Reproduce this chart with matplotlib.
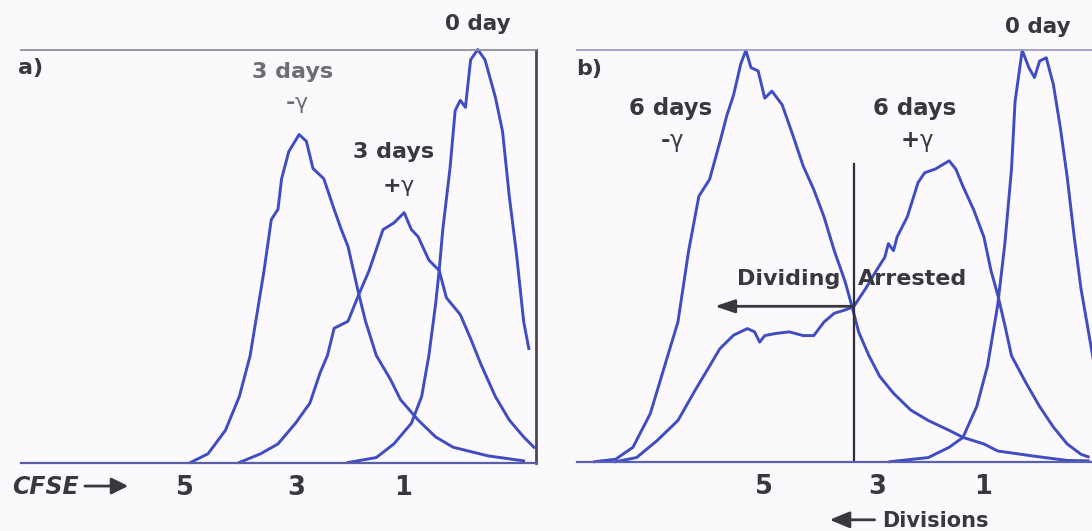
import matplotlib.pyplot as plt

plt.rcParams['font.family'] = ['DejaVu Sans', 'Liberation Sans']
plt.rcParams['mathtext.fontset'] = 'dejavusans'

# panel a: CFSE histograms, x = fluorescence (arb. units), y = % of max
a_minus_x = [32.9, 36.3, 39.7, 42.4, 44.5, 45.9, 47.2, 48.6, 49.9, 50.6, 52.0, 54.0, 55.4, 56.7,
             58.8, 60.8, 62.2, 63.5, 65.6, 66.9, 69.0, 71.7, 73.7, 77.1, 80.5, 83.9, 90.7, 97.6]
a_minus_y = [0, 2.1, 7.8, 16.0, 25.9, 36.6, 46.5, 58.8, 61.3, 68.7, 75.3, 79.4, 77.8, 71.2,
             68.7, 61.3, 56.4, 52.3, 40.7, 34.2, 25.9, 20.2, 15.2, 10.3, 6.2, 3.7, 1.6, 0.4]

a_plus_x = [42.4, 46.5, 49.9, 53.3, 56.1, 58.1, 59.5, 60.8, 63.5, 65.6, 67.6, 70.3, 72.4, 74.4,
            75.8, 77.1, 79.2, 81.2, 82.6, 85.3, 87.3, 89.4, 92.1, 94.8, 97.6, 99.6]
a_plus_y = [0, 2.1, 4.5, 9.5, 14.4, 21.8, 25.9, 32.5, 34.2, 40.7, 46.5, 56.4, 58.0, 60.5,
            56.4, 54.7, 49.0, 46.5, 39.9, 35.8, 30.0, 23.5, 16.0, 10.3, 6.2, 3.7]

a_day0_x = [63.5, 69.0, 72.4, 75.8, 77.8, 79.2, 80.5, 81.2, 81.9, 83.3, 84.3, 85.3, 86.3, 87.3,
            88.7, 90.1, 92.1, 93.5, 94.8, 96.2, 97.6, 98.6]
a_day0_y = [0, 1.2, 4.5, 9.5, 16.0, 25.9, 38.3, 46.5, 56.4, 71.2, 85.2, 87.7, 86.0, 97.5,
            100.0, 97.5, 88.5, 80.2, 64.6, 50.6, 34.2, 27.6]

# panel b
b_minus_x = [3.4, 7.5, 10.9, 14.3, 17.7, 19.7, 21.8, 23.8, 25.9, 27.9, 29.3, 30.6, 32.0, 33.0,
             34.0, 35.4, 36.7, 38.1, 40.1, 42.2, 44.2, 46.3, 48.3, 50.3, 52.4, 53.7, 55.1, 57.1,
             59.2, 61.9, 65.3, 68.7, 72.8, 75.5, 79.6, 82.3, 89.1, 95.9, 100.0]
b_minus_y = [0, 0.6, 3.5, 11.7, 25.7, 33.9, 51.2, 64.4, 68.5, 77.5, 84.1, 89.0, 96.5, 99.8,
             95.6, 94.8, 88.2, 89.9, 86.6, 79.2, 71.8, 66.0, 59.4, 51.2, 43.8, 38.0, 31.4, 25.7,
             20.7, 16.6, 12.5, 10.0, 7.6, 5.9, 4.3, 2.6, 1.4, 0.3, 0.2]

b_plus_x = [7.5, 11.6, 15.6, 19.7, 23.1, 25.9, 27.9, 30.6, 33.3, 34.7, 35.7, 36.7, 38.8, 41.5,
            44.2, 46.3, 48.3, 50.3, 52.4, 54.1, 56.5, 58.5, 60.2, 60.9, 61.9, 62.6, 64.6, 66.7,
            68.0, 70.1, 72.8, 74.1, 75.5, 77.6, 79.6, 81.0, 82.3, 83.7, 85.0, 87.8, 90.5, 93.2,
            95.9, 98.6, 100.0]
b_plus_y = [0, 1.0, 5.1, 10.0, 17.4, 23.2, 27.4, 30.7, 32.3, 31.5, 29.0, 30.6, 31.1, 31.5,
            30.6, 30.6, 33.9, 36.0, 36.8, 37.6, 42.1, 46.3, 49.6, 52.9, 51.2, 54.5, 59.4, 67.7,
            70.1, 71.0, 73.0, 71.0, 66.8, 61.1, 54.5, 46.3, 40.5, 33.1, 25.7, 19.2, 13.4, 8.4,
            4.3, 1.8, 1.2]

b_day0_x = [61.2, 68.7, 72.8, 75.5, 78.2, 80.3, 82.3, 83.7, 85.0, 85.7, 87.1, 88.4, 89.5, 90.5,
            91.8, 93.2, 94.6, 95.9, 97.3, 98.6, 101.0]
b_day0_y = [0, 1.0, 3.5, 5.9, 13.4, 23.2, 38.0, 52.9, 71.0, 87.4, 99.8, 95.6, 93.2, 97.2,
            98.0, 91.5, 80.7, 69.1, 54.3, 42.0, 24.9]

division_labels = ['5', '3', '1']
a_div_pos = [31.8, 53.4, 74.2]
b_div_pos = [36.5, 58.7, 79.4]
gate_x = 54.1

minus_g = r'-$\mathrm{\gamma}$'
plus_g = r'+$\mathrm{\gamma}$'

blue = '#3f4cc2'
dark = '#38383e'
W, H = 1092, 531

fig = plt.figure(figsize=(W / 100, H / 100), dpi=100, facecolor='#fbf9fc')
ax_a = fig.add_axes([21 / W, 68.5 / H, 515 / W, 413 / H])
ax_b = fig.add_axes([577.3 / W, 69.3 / H, (W - 577.3) / W, 412.2 / H])

for ax in (ax_a, ax_b):
    ax.set_facecolor('none')
    ax.set_ylim(0, 100)
    ax.set_yticks([])
    ax.spines['left'].set_visible(False)
    ax.tick_params(axis='x', length=0, pad=9, labelsize=18.5, labelcolor=dark)

ax_a.set_xlim(0, 100)
ax_b.set_xlim(0, 100.76)
ax_a.spines['top'].set_color('#8e8e9e')
ax_a.spines['top'].set_linewidth(1.3)
ax_a.spines['bottom'].set_color('#5a5ea8')
ax_a.spines['bottom'].set_linewidth(1.6)
ax_a.spines['right'].set_color('#4a4a55')
ax_a.spines['right'].set_linewidth(2)
ax_b.spines['top'].set_color('#9d9dc6')
ax_b.spines['top'].set_linewidth(1.3)
ax_b.spines['bottom'].set_color('#5a60b2')
ax_b.spines['bottom'].set_linewidth(1.6)
ax_b.spines['right'].set_visible(False)

for x, y in [(a_minus_x, a_minus_y), (a_plus_x, a_plus_y), (a_day0_x, a_day0_y)]:
    ax_a.plot(x, y, color=blue, lw=2.1, clip_on=False)
for x, y in [(b_minus_x, b_minus_y), (b_plus_x, b_plus_y), (b_day0_x, b_day0_y)]:
    ax_b.plot(x, y, color=blue, lw=2.1, clip_on=False)

ax_a.set_xticks(a_div_pos, division_labels, fontweight='bold')
ax_b.set_xticks(b_div_pos, division_labels, fontweight='bold')

kw = dict(fontweight='bold', clip_on=False, va='baseline')
# panel a labels
ax_a.text(-0.5, 94.1, 'a)', fontsize=16, color=dark, ha='left', **kw)
ax_a.text(88.7, 104.7, '0 day', fontsize=15.5, color=dark, ha='center', **kw)
ax_a.text(52.7, 93.1, '3 days', fontsize=16, color='#6e6e72', ha='center', **kw)
ax_a.text(53.6, 85.5, minus_g, fontsize=16, color='#6e6e72', ha='center', **kw)
ax_a.text(72.4, 73.8, '3 days', fontsize=16, color=dark, ha='center', **kw)
ax_a.text(73.4, 65.4, plus_g, fontsize=16, color=dark, ha='center', **kw)
ax_a.text(-1.8, -7.6, 'CFSE', fontsize=17, color=dark, ha='left', style='italic', **kw)
ax_a.annotate('', xy=(20.8, -5.7), xytext=(12.4, -5.7), annotation_clip=False,
              arrowprops=dict(arrowstyle='-|>,head_length=0.5,head_width=0.25', color=dark,
                              lw=2, mutation_scale=20, shrinkA=0, shrinkB=0))

# panel b labels
ax_b.text(-0.25, 93.7, 'b)', fontsize=16, color=dark, ha='left', **kw)
ax_b.text(90.2, 103.9, '0 day', fontsize=15.5, color=dark, ha='center', **kw)
ax_b.text(18.2, 84.2, '6 days', fontsize=16.5, color=dark, ha='center', **kw)
ax_b.text(18.5, 76.4, minus_g, fontsize=16.5, color=dark, ha='center', **kw)
ax_b.text(66.1, 84.2, '6 days', fontsize=16.5, color=dark, ha='center', **kw)
ax_b.text(66.5, 76.4, plus_g, fontsize=16.5, color=dark, ha='center', **kw)
ax_b.text(31.2, 42.8, 'Dividing', fontsize=16, color=dark, ha='left', **kw)
ax_b.text(55.0, 42.8, 'Arrested', fontsize=16, color=dark, ha='left', **kw)
ax_b.plot([gate_x, gate_x], [0, 72.2], color='#2e2e33', lw=1.6)
ax_b.annotate('', xy=(26.9, 37.7), xytext=(gate_x, 37.7),
              arrowprops=dict(arrowstyle='-|>,head_length=0.6,head_width=0.2', color=dark,
                              lw=2, mutation_scale=20, shrinkA=0, shrinkB=0))
ax_b.text(59.6, -15.9, 'Divisions', fontsize=15, color=dark, ha='left', **kw)
ax_b.annotate('', xy=(49.4, -14.1), xytext=(58.2, -14.1), annotation_clip=False,
              arrowprops=dict(arrowstyle='-|>,head_length=0.6,head_width=0.25', color=dark,
                              lw=2, mutation_scale=20, shrinkA=0, shrinkB=0))

fig.savefig('out.png', dpi=100, facecolor=fig.get_facecolor())
